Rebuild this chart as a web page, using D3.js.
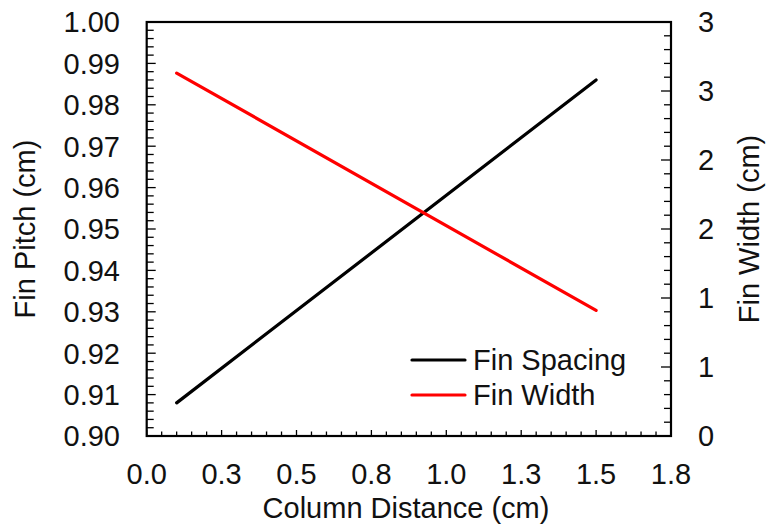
<!DOCTYPE html>
<html>
<head>
<meta charset="utf-8">
<script src="https://cdn.jsdelivr.net/npm/d3@7"></script>
<style>
  html, body { margin: 0; padding: 0; background: #fff; }
  svg { display: block; }
  text { font-family: "Liberation Sans", Arial, sans-serif; fill: #111; }
</style>
</head>
<body>
<svg id="chart" width="766" height="529"></svg>
<script>
// Column distance along the fin array (cm)
const columnDistance = [0.1, 1.5];
// Fin pitch / spacing (left axis, cm)
const finSpacing = [0.908, 0.986];
// Fin width (right axis, cm)
const finWidth = [2.63, 0.91];

const seriesNames = ["Fin Spacing", "Fin Width"];
const seriesColors = ["#000000", "#ff0000"];

const xTicks = [0, 0.25, 0.5, 0.75, 1.0, 1.25, 1.5, 1.75];
const yLeftTicks = [0.90, 0.91, 0.92, 0.93, 0.94, 0.95, 0.96, 0.97, 0.98, 0.99, 1.00];
const yRightTicks = [0, 0.5, 1, 1.5, 2, 2.5, 3];

const plot = { left: 146.7, right: 671, top: 22, bottom: 436 };
const FS = 29;

const svg = d3.select("#chart");

const x = d3.scaleLinear().domain([0, 1.75]).range([plot.left, plot.right]);
const yL = d3.scaleLinear().domain([0.90, 1.00]).range([plot.bottom, plot.top]);
const yR = d3.scaleLinear().domain([0, 3]).range([plot.bottom, plot.top]);

// Excel-style rounding (half away from zero)
const fmtX = v => (Math.round(v * 10 + 1e-9) / 10).toFixed(1);
const fmtL = v => v.toFixed(2);
const fmtR = v => String(Math.round(v + 1e-9));

// minor tick positions (5 subdivisions between majors)
function minors(ticks) {
  const out = [];
  for (let i = 0; i < ticks.length - 1; i++) {
    const step = (ticks[i + 1] - ticks[i]) / 5;
    for (let k = 1; k < 5; k++) out.push(ticks[i] + k * step);
  }
  return out;
}

const axisG = svg.append("g");

// bottom axis: inward ticks
const bx = axisG.append("g");
bx.selectAll("line.maj").data(xTicks).join("line")
  .attr("x1", d => x(d)).attr("x2", d => x(d))
  .attr("y1", plot.bottom).attr("y2", plot.bottom - 6)
  .attr("stroke", "#000").attr("stroke-width", 1.3);
bx.selectAll("line.min").data(minors(xTicks)).join("line")
  .attr("x1", d => x(d)).attr("x2", d => x(d))
  .attr("y1", plot.bottom).attr("y2", plot.bottom - 4.5)
  .attr("stroke", "#000").attr("stroke-width", 1.3);
bx.selectAll("text").data(xTicks).join("text")
  .attr("x", d => x(d)).attr("y", 484)
  .attr("text-anchor", "middle").style("font-size", FS + "px")
  .text(fmtX);

// left axis
const lx = axisG.append("g");
lx.selectAll("line.maj").data(yLeftTicks).join("line")
  .attr("x1", plot.left).attr("x2", plot.left + 9)
  .attr("y1", d => yL(d)).attr("y2", d => yL(d))
  .attr("stroke", "#000").attr("stroke-width", 1.3);
lx.selectAll("line.min").data(minors(yLeftTicks)).join("line")
  .attr("x1", plot.left).attr("x2", plot.left + 7)
  .attr("y1", d => yL(d)).attr("y2", d => yL(d))
  .attr("stroke", "#000").attr("stroke-width", 1.3);
lx.selectAll("text").data(yLeftTicks).join("text")
  .attr("x", 120).attr("y", d => yL(d))
  .attr("dy", "0.36em")
  .attr("text-anchor", "end").style("font-size", FS + "px")
  .text(fmtL);

// right axis
const rx = axisG.append("g");
rx.selectAll("line.maj").data(yRightTicks).join("line")
  .attr("x1", plot.right).attr("x2", plot.right - 10)
  .attr("y1", d => yR(d)).attr("y2", d => yR(d))
  .attr("stroke", "#000").attr("stroke-width", 1.3);
rx.selectAll("line.min").data(minors(yRightTicks)).join("line")
  .attr("x1", plot.right).attr("x2", plot.right - 7)
  .attr("y1", d => yR(d)).attr("y2", d => yR(d))
  .attr("stroke", "#000").attr("stroke-width", 1.3);
rx.selectAll("text").data(yRightTicks).join("text")
  .attr("x", 698).attr("y", d => yR(d))
  .attr("dy", "0.36em")
  .attr("text-anchor", "start").style("font-size", FS + "px")
  .text(fmtR);

// plot frame
svg.append("rect")
  .attr("x", plot.left).attr("y", plot.top)
  .attr("width", plot.right - plot.left).attr("height", plot.bottom - plot.top)
  .attr("fill", "none").attr("stroke", "#000").attr("stroke-width", 2.2);

// data lines
const spacingPts = columnDistance.map((c, i) => [c, finSpacing[i]]);
const widthPts = columnDistance.map((c, i) => [c, finWidth[i]]);

svg.append("path")
  .attr("d", d3.line().x(d => x(d[0])).y(d => yL(d[1]))(spacingPts))
  .attr("fill", "none").attr("stroke", seriesColors[0])
  .attr("stroke-width", 3.2).attr("stroke-linecap", "round");
svg.append("path")
  .attr("d", d3.line().x(d => x(d[0])).y(d => yR(d[1]))(widthPts))
  .attr("fill", "none").attr("stroke", seriesColors[1])
  .attr("stroke-width", 3.2).attr("stroke-linecap", "round");

// axis titles
svg.append("text")
  .attr("x", 406).attr("y", 518)
  .attr("text-anchor", "middle").style("font-size", FS + "px")
  .text("Column Distance (cm)");
svg.append("text")
  .attr("transform", `translate(35,${(plot.top + plot.bottom) / 2}) rotate(-90)`)
  .attr("text-anchor", "middle").style("font-size", FS + "px")
  .text("Fin Pitch (cm)");
svg.append("text")
  .attr("transform", `translate(759,${(plot.top + plot.bottom) / 2}) rotate(-90)`)
  .attr("text-anchor", "middle").style("font-size", FS + "px")
  .text("Fin Width (cm)");

// legend
const legend = svg.append("g");
const legY = [360, 395];
seriesNames.forEach((name, i) => {
  legend.append("line")
    .attr("x1", 412).attr("x2", 465)
    .attr("y1", legY[i]).attr("y2", legY[i])
    .attr("stroke", seriesColors[i]).attr("stroke-width", 3.2)
    .attr("stroke-linecap", "round");
  legend.append("text")
    .attr("x", 473).attr("y", legY[i]).attr("dy", "0.36em")
    .style("font-size", FS + "px")
    .text(name);
});
</script>
</body>
</html>
